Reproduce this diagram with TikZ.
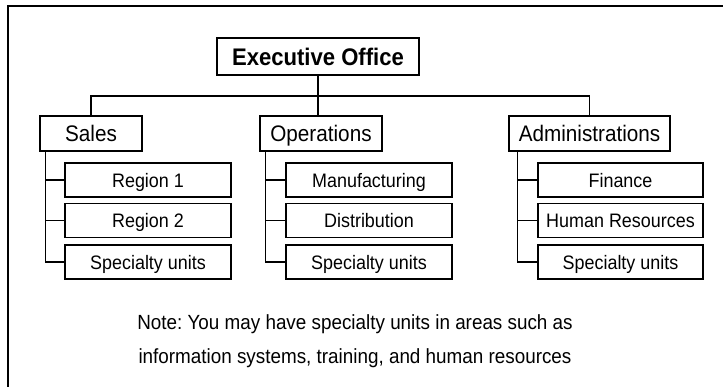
\documentclass[tikz,border=0pt]{standalone}
\usepackage{fontspec}
\setmainfont{Liberation Sans}[FakeStretch=0.92]
\frenchspacing
\begin{document}
\begin{tikzpicture}[x=1pt,y=-1pt,
  box/.style={draw,line width=1.3pt,inner sep=0pt,align=center,text depth=0pt},
  head/.style={box,minimum height=35pt,text height=16pt,font=\fontsize{22.5}{26}\selectfont},
  unit/.style={box,minimum height=34pt,minimum width=166pt,text height=14.5pt,font=\fontsize{19.5}{23}\selectfont},
  link/.style={line width=1.3pt},
  note/.style={font=\fontsize{20.5}{24}\selectfont,inner sep=0pt,anchor=base}]
\useasboundingbox (0,0) rectangle (723,387);
\draw[line width=1.8pt] (8,387) -- (8,6) -- (723,6);
\node[box,minimum width=202pt,minimum height=37pt,text height=17.5pt,font=\bfseries\fontsize{24}{28}\selectfont] (exec) at (318,56.5) {Executive Office};
\node[head,minimum width=102pt] (sales) at (91,133.5) {Sales};
\node[head,minimum width=122pt] (ops) at (321,133.5) {Operations};
\node[head,minimum width=161pt] (adm) at (589.5,133.5) {Administrations};
\node[unit] (s1) at (148,180) {Region 1};
\node[unit] (s2) at (148,220.5) {Region 2};
\node[unit] (s3) at (148,262) {Specialty units};
\node[unit] (o1) at (369,180) {Manufacturing};
\node[unit] (o2) at (369,220.5) {Distribution};
\node[unit] (o3) at (369,262) {Specialty units};
\node[unit,minimum width=165pt] (a1) at (620.5,180) {Finance};
\node[unit,minimum width=165pt] (a2) at (620.5,220.5) {Human Resources};
\node[unit,minimum width=165pt] (a3) at (620.5,262) {Specialty units};
\coordinate (bus) at (0,96);
\draw[link] (exec.south) -- (exec.south |- ops.north);
\draw[link] (sales.north) -- (sales.north |- bus) -- (adm.north |- bus) -- (adm.north);
% spines
\coordinate (sp) at ([xshift=6pt]sales.south west);
\coordinate (op) at ([xshift=6pt]ops.south west);
\coordinate (ap) at ([xshift=9pt]adm.south west);
\draw[link] (sp) -- (sp |- s3.west) -- (s3.west);
\draw[link] (sp |- s1.west) -- (s1.west);
\draw[link] (sp |- s2.west) -- (s2.west);
\draw[link] (op) -- (op |- o3.west) -- (o3.west);
\draw[link] (op |- o1.west) -- (o1.west);
\draw[link] (op |- o2.west) -- (o2.west);
\draw[link] (ap) -- (ap |- a3.west) -- (a3.west);
\draw[link] (ap |- a1.west) -- (a1.west);
\draw[link] (ap |- a2.west) -- (a2.west);
\node[note] (n1) at (355,330) {Note: You may have specialty units in areas such as};
\node[note] (n2) at (355,363) {information systems, training, and human resources};
\end{tikzpicture}
\end{document}
